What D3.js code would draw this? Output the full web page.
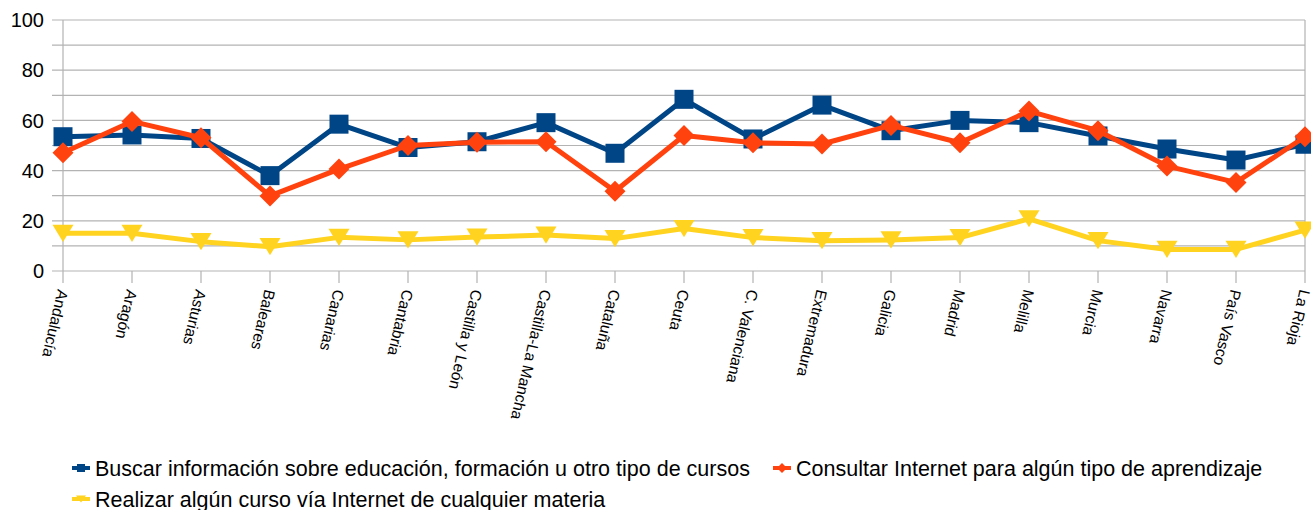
<html>
<head>
<meta charset="utf-8">
<title>Aprendizaje por Internet por comunidad</title>
<style>
    body{ margin:0; background:#fff; }
    text{ font-family:"Liberation Sans", Arial, sans-serif; fill:#000; }
</style>
<script src="https://cdn.jsdelivr.net/npm/d3@7"></script>
</head>
<body>
<script>
// data (%)
var categories = ["Andalucía","Aragón","Asturias","Baleares","Canarias","Cantabria","Castilla y León","Castilla-La Mancha","Cataluña","Ceuta","C. Valenciana","Extremadura","Galicia","Madrid","Melilla","Murcia","Navarra","País Vasco","La Rioja"];
var buscar    = [53.5, 54.2, 52.8, 38.0, 58.5, 49.2, 51.5, 59.1, 46.9, 68.4, 52.6, 66.1, 55.9, 60.0, 59.1, 53.8, 48.6, 44.2, 50.5];
var consultar = [47.1, 59.6, 53.1, 29.9, 40.6, 50.0, 51.3, 51.5, 31.8, 54.0, 51.1, 50.6, 58.0, 51.1, 63.7, 55.9, 41.8, 35.3, 53.5];
var realizar  = [15.0, 15.0, 11.7,  9.7, 13.4, 12.4, 13.5, 14.3, 12.9, 16.9, 13.3, 12.1, 12.4, 13.3, 20.8, 12.1,  8.6,  8.6, 16.3];
var seriesNames = ["Buscar información sobre educación, formación u otro tipo de cursos",
                   "Consultar Internet para algún tipo de aprendizaje",
                   "Realizar algún curso vía Internet de cualquier materia"];
var yTicks = [0,20,40,60,80,100];

var width = 1311, height = 510;
var plotLeft = 63, plotRight = 1305, plotTop = 20, plotBottom = 271;
var gridColor = "#b3b3b3";

var svg = d3.select("body").append("svg")
            .attr("width", width)
            .attr("height", height);

var x = d3.scalePoint().domain(categories).range([plotLeft, plotRight]).padding(0);
var y = d3.scaleLinear().domain([0,100]).range([plotBottom, plotTop]);

// horizontal grid every 10, with a short tick out to the left
svg.append("g").selectAll("line")
   .data(d3.range(0, 101, 10))
   .enter().append("line")
   .attr("x1", plotLeft - 11).attr("x2", plotRight)
   .attr("y1", function(d){ return y(d); })
   .attr("y2", function(d){ return y(d); })
   .attr("stroke", gridColor).attr("stroke-width", 1.2);

// category ticks under the axis, first and last run full height
svg.append("g").selectAll("line")
   .data(categories)
   .enter().append("line")
   .attr("x1", function(d){ return x(d); })
   .attr("x2", function(d){ return x(d); })
   .attr("y1", function(d,i){ return (i == 0 || i == categories.length-1) ? plotTop : plotBottom; })
   .attr("y2", plotBottom + 12)
   .attr("stroke", gridColor).attr("stroke-width", 1.2);

// y labels
svg.append("g").selectAll("text")
   .data(yTicks)
   .enter().append("text")
   .attr("x", 44)
   .attr("y", function(d){ return y(d); })
   .attr("dy", "0.36em")
   .attr("text-anchor", "end")
   .style("font-size", "20px")
   .text(function(d){ return d; });

// rotated category labels
svg.append("g").selectAll("text")
   .data(categories)
   .enter().append("text")
   .attr("transform", function(d){ return "translate(" + x(d) + ",290) rotate(103)"; })
   .attr("dy", "0.35em")
   .style("font-size", "15.5px")
   .text(function(d){ return d; });

var colors = ["#004586", "#ff420e", "#ffd320"];
var allSeries = [buscar, consultar, realizar];

function marker(g, kind, cx, cy, s, color){
    if(kind == 0){
        g.append("rect").attr("x", cx - s/2).attr("y", cy - s/2)
         .attr("width", s).attr("height", s).attr("fill", color);
    }else if(kind == 1){
        var h = s/2 + 1;
        g.append("path").attr("d", "M" + cx + "," + (cy-h) + "L" + (cx+h) + "," + cy + "L" + cx + "," + (cy+h) + "L" + (cx-h) + "," + cy + "Z")
         .attr("fill", color);
    }else{
        var w = s/2 + 1;
        g.append("path").attr("d", "M" + (cx-w) + "," + (cy-s*0.45) + "L" + (cx+w) + "," + (cy-s*0.45) + "L" + cx + "," + (cy+s*0.45) + "Z")
         .attr("fill", color);
    }
}

var line = d3.line()
    .x(function(d,i){ return x(categories[i]); })
    .y(function(d){ return y(d); });

allSeries.forEach(function(vals, k){
    var g = svg.append("g");
    g.append("path")
     .attr("d", line(vals))
     .attr("fill", "none")
     .attr("stroke", colors[k])
     .attr("stroke-width", 5)
     .attr("stroke-linejoin", "round");
    vals.forEach(function(v, i){
        marker(g, k, x(categories[i]), y(v), 19, colors[k]);
    });
});

// legend
var legendPos = [[72, 468], [773, 468], [72, 499]];
seriesNames.forEach(function(name, k){
    var g = svg.append("g");
    var lx = legendPos[k][0], ly = legendPos[k][1];
    g.append("line").attr("x1", lx).attr("x2", lx + 18)
     .attr("y1", ly).attr("y2", ly)
     .attr("stroke", colors[k]).attr("stroke-width", 4);
    marker(g, k, lx + 9, ly, 8, colors[k]);
    g.append("text")
     .attr("x", lx + 23).attr("y", ly)
     .attr("dy", "0.36em")
     .style("font-size", "21.5px")
     .text(name);
});
</script>
</body>
</html>
